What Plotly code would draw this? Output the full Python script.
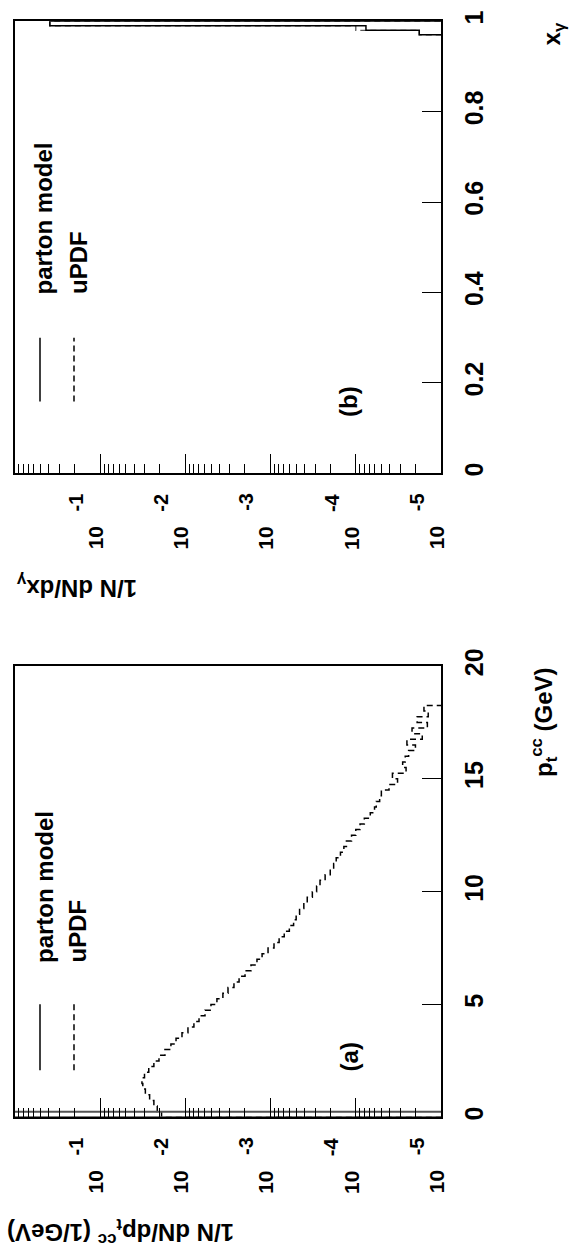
import math
import plotly.graph_objects as go

W, H = 569, 1257

# ---------------- data ----------------
# Panel (a): p_t^cc distribution, histogram bins of 0.25 GeV starting at 0
PT_BIN_WIDTH = 0.25
pt_updf_log10 = [
    -1.72, -1.67, -1.63, -1.58, -1.53, -1.50, -1.49, -1.52, -1.57, -1.63,
    -1.69, -1.76, -1.83, -1.89, -1.96, -2.03, -2.10, -2.16, -2.23, -2.30,
    -2.37, -2.44, -2.50, -2.57, -2.63, -2.70, -2.77, -2.84, -2.90, -2.97,
    -3.04, -3.10, -3.16, -3.22, -3.27, -3.30, -3.34, -3.39, -3.43, -3.49,
    -3.54, -3.58, -3.64, -3.70, -3.74, -3.77, -3.82, -3.86, -3.89, -3.95,
    -4.00, -4.05, -4.10, -4.17, -4.22, -4.24, -4.28, -4.30, -4.39, -4.49,
    -4.43, -4.59, -4.55, -4.58, -4.62, -4.70, -4.60, -4.78, -4.66, -4.84,
    -4.72, -4.85, -4.80,
]
pt_parton = [4.0]            # all events in the first bin (collinear)

# Panel (b): x_gamma distribution, bins of 0.01
XG_BIN_WIDTH = 0.01
xg_bin_low = [0.97, 0.98, 0.99]
xg_parton = [1.8e-5, 7.6e-5, 0.39]
xg_updf = [1.8e-5, 1.0e-4, 0.39]

log_tick_vals = [1e-1, 1e-2, 1e-3, 1e-4, 1e-5]
log_tick_base = "10"
log_tick_exp = ["-1", "-2", "-3", "-4", "-5"]
xg_tick_vals = [0, 0.2, 0.4, 0.6, 0.8, 1.0]
xg_tick_text = ["0", "0.2", "0.4", "0.6", "0.8", "1"]
pt_tick_vals = [0, 5, 10, 15, 20]
pt_tick_text = ["0", "5", "10", "15", "20"]

FLOOR = 1e-9  # empty bins (drawn off the bottom of the log scale)


def step_path(lows, width, vals):
    xs, ys = [FLOOR], [lows[0]]
    for lo, v in zip(lows, vals):
        v = v if v > 0 else FLOOR
        xs += [v, v]
        ys += [lo, lo + width]
    xs.append(FLOOR)
    ys.append(lows[-1] + width)
    return xs, ys


pt_updf = [10 ** v for v in pt_updf_log10]
pt_lows = [i * PT_BIN_WIDTH for i in range(len(pt_updf))]

# ---------------- geometry (pixels) ----------------
FL, FR = 15, 441
B_TOP, B_BOT = 3.3, 463
A_TOP, A_BOT = 659, 1118


def px(x):
    return x / W


def py(y):
    return (H - y) / H


FONT = "Liberation Sans"
fig = go.Figure()

DASH = "6px,4px"

# panel (b)
xs, ys = step_path(xg_bin_low, XG_BIN_WIDTH, xg_updf)
fig.add_trace(go.Scatter(x=xs, y=ys, mode="lines", xaxis="x", yaxis="y",
                         line=dict(color="#555555", width=1.3, dash=DASH), showlegend=False))
xs, ys = step_path(xg_bin_low, XG_BIN_WIDTH, xg_parton)
fig.add_trace(go.Scatter(x=xs, y=ys, mode="lines", xaxis="x", yaxis="y",
                         line=dict(color="black", width=1.5), showlegend=False))

# panel (a)
xs, ys = step_path(pt_lows, PT_BIN_WIDTH, pt_updf)
fig.add_trace(go.Scatter(x=xs, y=ys, mode="lines", xaxis="x2", yaxis="y2",
                         line=dict(color="black", width=1.5, dash=DASH), showlegend=False))
xs, ys = step_path([0.0], PT_BIN_WIDTH, pt_parton)
fig.add_trace(go.Scatter(x=xs, y=ys, mode="lines", xaxis="x2", yaxis="y2",
                         line=dict(color="#555555", width=2), showlegend=False))

minor_vals = [k * 10 ** e for e in range(-6, 1) for k in range(2, 10)]

logaxis = dict(type="log", range=[0, -5], domain=[px(FL), px(FR)],
               showline=True, mirror=True, linecolor="black", linewidth=1.5,
               showgrid=False, zeroline=False,
               ticks="inside", ticklen=20, tickwidth=1, tickcolor="black",
               tickvals=log_tick_vals, showticklabels=False,
               minor=dict(tickvals=minor_vals, ticks="inside", ticklen=10,
                          tickwidth=1, tickcolor="black", showgrid=False))

linaxis = dict(showline=True, mirror=True, linecolor="black", linewidth=1.5,
               showgrid=False, zeroline=False, side="right",
               ticks="inside", ticklen=19, tickwidth=1, tickcolor="black",
               tickangle=-90, ticklabelstandoff=10,
               tickfont=dict(family=FONT, size=25, color="black", weight="bold"))

fig.update_layout(
    width=W, height=H, margin=dict(l=0, r=0, t=0, b=0),
    paper_bgcolor="white", plot_bgcolor="white",
    xaxis=dict(logaxis, anchor="y"),
    yaxis=dict(linaxis, anchor="x", range=[0, 1],
               domain=[py(B_BOT), py(B_TOP)],
               tickvals=xg_tick_vals, ticktext=xg_tick_text),
    xaxis2=dict(logaxis, anchor="y2"),
    yaxis2=dict(linaxis, anchor="x2", range=[0, 20],
                domain=[py(A_BOT), py(A_TOP)],
                tickvals=pt_tick_vals, ticktext=pt_tick_text),
)

# log-axis tick labels "10^-n" (rotated, exponent same size as base, as in the original)
for xref, frame_bot in (("x", B_BOT), ("x2", A_BOT)):
    for val, ex in zip(log_tick_vals, log_tick_exp):
        fig.add_annotation(xref=xref, yref="paper", x=math.log10(val), y=py(frame_bot + 66),
                           xshift=-5, text="<b>%s</b>" % log_tick_base, textangle=-90,
                           showarrow=False, xanchor="center", yanchor="middle",
                           font=dict(family=FONT, size=21, color="black"))
        fig.add_annotation(xref=xref, yref="paper", x=math.log10(val), y=py(frame_bot + 29.5),
                           xshift=-24, text="<b>%s</b>" % ex, textangle=-90,
                           showarrow=False, xanchor="center", yanchor="middle",
                           font=dict(family=FONT, size=20, color="black"))


# legend samples (shapes in axis-domain coordinates)
def legend(xref, yref, y0, y1, ytext, label_pos, lab_y):
    fig.add_shape(type="line", xref=xref, yref=yref,
                  x0=(40 - FL) / (FR - FL), x1=(40 - FL) / (FR - FL), y0=y0, y1=y1,
                  line=dict(color="black", width=1.5))
    fig.add_shape(type="line", xref=xref, yref=yref,
                  x0=(74 - FL) / (FR - FL), x1=(74 - FL) / (FR - FL), y0=y0, y1=y1,
                  line=dict(color="black", width=1.5, dash="6px,4px"))
    for txt, cx in (("parton model", 44), ("uPDF", 78)):
        fig.add_annotation(xref=xref, yref=yref, x=(cx - FL) / (FR - FL), y=ytext,
                           text="<b>%s</b>" % txt, textangle=-90, showarrow=False,
                           xanchor="center", yanchor="bottom",
                           font=dict(family=FONT, size=24, color="black"))
    fig.add_annotation(xref=xref, yref=yref, x=(349 - FL) / (FR - FL), y=lab_y,
                       text="<b>%s</b>" % label_pos, textangle=-90, showarrow=False,
                       xanchor="center", yanchor="middle",
                       font=dict(family=FONT, size=24, color="black"))


legend("x domain", "y", 0.159, 0.30, 0.391, "(b)", 0.16)
legend("x2 domain", "y2", 2.09, 5.01, 6.75, "(a)", 2.7)

# axis titles
fig.add_annotation(xref="paper", yref="paper", x=px(553), y=py(3),
                   text="<b>x<sub>γ</sub></b>", textangle=-90, showarrow=False,
                   xanchor="center", yanchor="top",
                   font=dict(family=FONT, size=24, color="black"))
fig.add_annotation(xref="paper", yref="paper", x=px(544), y=py(658),
                   text="<b>p<sub>t</sub><sup>cc</sup> (GeV)</b>", textangle=-90,
                   showarrow=False, xanchor="center", yanchor="top",
                   font=dict(family=FONT, size=24, color="black"))
fig.add_annotation(xref="paper", yref="paper", x=px(14), y=py(578),
                   text="<b>1/N dN/dx<sub>γ</sub></b>", textangle=180, showarrow=False,
                   xanchor="left", yanchor="middle",
                   font=dict(family=FONT, size=24, color="black"))
fig.add_annotation(xref="paper", yref="paper", x=px(5), y=py(1234),
                   text="<b>1/N dN/dp<sub>t</sub><sup>cc</sup> (1/GeV)</b>", textangle=180,
                   showarrow=False, xanchor="left", yanchor="middle",
                   font=dict(family=FONT, size=24, color="black"))

fig.write_html("out.html", include_plotlyjs=True,
               config={"displayModeBar": False},
               post_script="document.body.style.margin='0';")
